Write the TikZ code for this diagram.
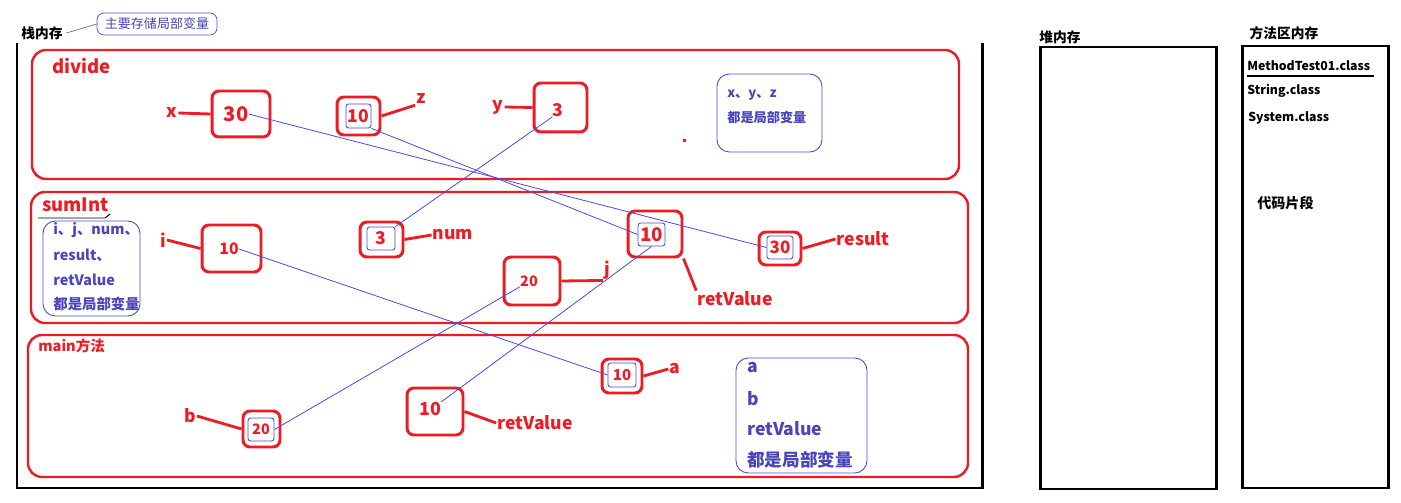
\documentclass[tikz,border=0pt]{standalone}
\usepackage{fontspec}
\setmainfont{Noto Sans CJK SC}
\usetikzlibrary{positioning}
\definecolor{pred}{RGB}{237,28,36}
\definecolor{pblue}{RGB}{72,76,222}
\definecolor{ptext}{RGB}{74,70,186}

\begin{document}
\begin{tikzpicture}[x=0.02cm, y=-0.02cm,
    frame/.style={draw=pred, line width=1.4pt, rounded corners=8pt},
    valbox/.style={draw=pred, line width=1.7pt, rounded corners=4pt, inner sep=0pt},
    inbox/.style={draw=pblue, line width=0.5pt, rounded corners=1.5pt, inner sep=0pt},
    val/.style={text=pred, font=\bfseries\fontsize{#1}{12}\selectfont, inner sep=0pt},
    var/.style={text=pred, font=\bfseries\fontsize{10}{12}\selectfont, inner sep=0.5pt},
    title/.style={text=pred, font=\bfseries\fontsize{#1}{12}\selectfont, anchor=west, inner sep=0pt},
    tie/.style={draw=pred, line width=1.6pt},
    link/.style={draw=pblue, line width=0.45pt},
    note/.style={draw=pblue, line width=0.5pt, rounded corners=7pt},
    notetxt/.style={text=ptext, font=\bfseries\fontsize{#1}{12}\selectfont, anchor=west, inner sep=0pt},
    mem/.style={draw=black, line width=1.7pt},
    memtxt/.style={font=\bfseries\fontsize{7}{8}\selectfont, anchor=west, inner sep=0pt},
    head/.style={font=\bfseries\fontsize{7.8}{9}\selectfont, inner sep=0pt}]

\useasboundingbox[fill=white] (0,0) rectangle (1401,503);

% 栈内存
\node[head] (stack) at (42,33) {栈内存};
\node[draw=pblue, line width=0.4pt, rounded corners=4pt, minimum width=2.4cm, minimum height=0.44cm, inner sep=0pt, text=ptext, font=\fontsize{7.4}{9}\selectfont] (hint) at (157,24) {主要存储局部变量};
\draw[gray!60!pblue, line width=0.4pt] ([xshift=2pt]stack.east) -- (hint.west);
\draw[mem] (17,43) -- (17,488) -- (982,488) -- (982,43);

% divide
\draw[frame] (32,50) rectangle (959,179);
\node[title=10.5] (dname) at (52,66) {divide};

\node[valbox, minimum width=1.16cm, minimum height=0.92cm] (xbox) at (241,114) {};
\node[val=11.5] (xval) at (236,114) {30};
\node[var] (xvar) at (172,113) {x};
\draw[tie] (xvar.east) -- (xbox.west);

\node[valbox, minimum width=0.86cm, minimum height=0.76cm] (zbox) at (358.5,116) {};
\node[inbox, val=10, minimum width=0.5cm, minimum height=0.48cm] (zval) at (358.5,116) {10};
\node[var] (zvar) at (421,99) {z};
\draw[tie] (zbox.east) -- (zvar.south west);

\node[valbox, minimum width=1.06cm, minimum height=0.98cm] (ybox) at (560.5,107.5) {};
\node[val=10] (yval) at (558,110) {3};
\node[var] (yvar) at (498,107) {y};
\draw[tie] (yvar.east) -- (ybox.west);

\fill[pred] (683,139) rectangle (686,142);

\node[note, minimum width=2.1cm, minimum height=1.56cm] (dnote) at (769.5,113) {};
\node[notetxt=7.5] (dn1) at (727,95) {x、y、z};
\node[notetxt=7.5] (dn2) at (727,117) {都是局部变量};

% sumInt
\draw[frame] (31,192) rectangle (968,323);
\node[title=10.5] (sname) at (42,205) {sumInt};
\draw[line width=0.5pt] (38,218) -- (105,218) -- (110,214);

\node[note, minimum width=1.94cm, minimum height=1.9cm] (snote) at (91.5,268.5) {};
\node[notetxt=8.2] (sn1) at (53,230) {i、j、num、};
\node[notetxt=8.2] (sn2) at (53,255) {result、};
\node[notetxt=8.2] (sn3) at (53,280) {retValue};
\node[notetxt=8.2] (sn4) at (53,304) {都是局部变量};

\node[valbox, minimum width=1.18cm, minimum height=0.94cm] (ibox) at (231.5,248.5) {};
\node[val=9] (ival) at (229,249) {10};
\node[var] (ivar) at (163,240) {i};
\draw[tie] (ivar.east) -- (ibox.west);

\node[valbox, minimum width=0.86cm, minimum height=0.7cm] (numbox) at (381.5,239.5) {};
\node[inbox, val=10, minimum width=0.56cm, minimum height=0.46cm] (numval) at (381,238.5) {3};
\node[var] (numvar) at (453,235) {num};
\draw[tie] (numbox.east) -- (numvar.west);

\node[valbox, minimum width=1.12cm, minimum height=0.96cm] (jbox) at (532,281) {};
\node[val=8.2] (jval) at (529,281) {20};
\node[var] (jvar) at (607,270) {j};
\draw[tie] (jbox.east) -- (jvar.south west);

\node[valbox, minimum width=1.08cm, minimum height=0.92cm] (rvbox) at (655,234) {};
\node[inbox, val=10.7, minimum width=0.54cm, minimum height=0.46cm] (rvval) at (651.5,234.5) {10};
\node[var] (rvvar) at (735,299) {retValue};
\draw[tie] (rvbox.south east) -- (rvvar.north west);

\node[valbox, minimum width=0.84cm, minimum height=0.66cm] (rsbox) at (780,248.5) {};
\node[inbox, val=9.7, minimum width=0.52cm, minimum height=0.46cm] (rsval) at (780,247.5) {30};
\node[var] (rsvar) at (863,239) {result};
\draw[tie] (rsbox.east) -- (rsvar.west);

% main方法
\draw[frame] (28,335) rectangle (968,477);
\node[title=8.3] (mname) at (38,346) {main方法};

\node[valbox, minimum width=0.74cm, minimum height=0.72cm] (bbox) at (261.5,429) {};
\node[inbox, val=8.2, minimum width=0.52cm, minimum height=0.46cm] (bval) at (261,429.5) {20};
\node[var] (bvar) at (190,416) {b};
\draw[tie] (bvar.east) -- (bbox.west);

\node[valbox, minimum width=1.12cm, minimum height=0.94cm] (mrbox) at (435,411.5) {};
\node[val=10.2] (mrval) at (430,409) {10};
\node[var] (mrvar) at (535,423) {retValue};
\draw[tie] (mrbox.east) -- (mrvar.west);

\node[valbox, minimum width=0.8cm, minimum height=0.68cm] (abox) at (622,376) {};
\node[inbox, val=8.6, minimum width=0.56cm, minimum height=0.48cm] (aval) at (622,375) {10};
\node[var] (avar) at (675,369) {a};
\draw[tie] (abox.east) -- (avar.west);

\node[note, minimum width=2.62cm, minimum height=2.3cm] (mnote) at (801.5,415.5) {};
\node[notetxt=10] (mn1) at (747,368) {a};
\node[notetxt=10] (mn2) at (747,399) {b};
\node[notetxt=10] (mn3) at (747,429) {retValue};
\node[notetxt=10] (mn4) at (747,460) {都是局部变量};

% 传值
\draw[link] (xval.east) -- (rsval.west);
\draw[link] (zval.south east) -- (rvval.west);
\draw[link] (yval.south west) -- (numval.north east);
\draw[link] (ival.east) -- (aval.west);
\draw[link] (jval.south west) -- (bval.east);
\draw[link] (mrval.north east) -- (rvval.south);

% 堆内存, 方法区内存
\node[head] (heap) at (1060,37) {堆内存};
\draw[mem] (1040,47) rectangle (1216,489);
\node[head] (area) at (1284,33) {方法区内存};
\draw[mem] (1242,46) rectangle (1388,488);
\node[memtxt] (cls1) at (1247,66) {MethodTest01.class};
\draw[line width=1.7pt] (1247,76) -- (1374,76);
\node[memtxt] (cls2) at (1247,91) {String.class};
\node[memtxt] (cls3) at (1248,118) {System.class};
\node[memtxt, font=\bfseries\fontsize{8}{9}\selectfont] (code) at (1257,203) {代码片段};
\end{tikzpicture}
\end{document}
